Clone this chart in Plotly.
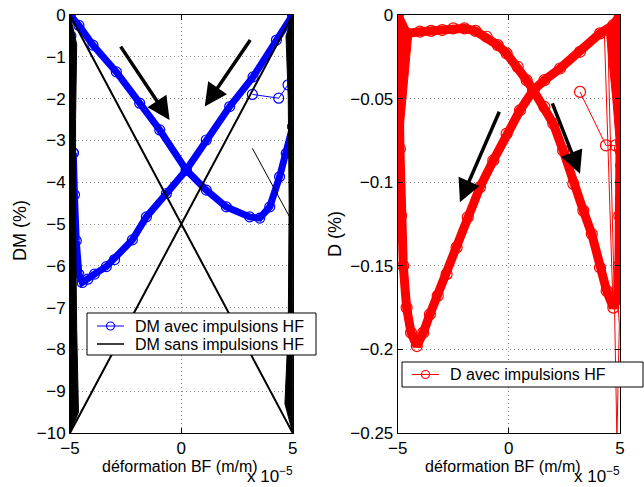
import plotly.graph_objects as go

# ---------------- data (x in units of 1e-5 m/m) ----------------
# Left panel: DM avec impulsions HF (main loop)
dm_desc_x = [-5.0, -4.6, -3.97, -2.92, -1.87, -0.97, 0.22, 1.12, 2.02, 3.07, 3.52, 3.97, 4.41, 4.71, 5.0]
dm_desc_y = [0.0, -0.25, -0.72, -1.36, -2.11, -2.75, -3.71, -4.19, -4.59, -4.83, -4.86, -4.59, -3.87, -3.31, -2.67]
dm_asc_x = [5.0, 4.27, 3.22, 2.17, 1.12, 0.22, -0.67, -1.57, -2.2, -3.0, -3.37, -3.9, -4.2, -4.45, -4.6, -4.72, -4.8, -4.85]
dm_asc_y = [0.0, -0.60, -1.48, -2.19, -2.99, -3.71, -4.27, -4.83, -5.38, -5.85, -6.02, -6.2, -6.32, -6.4, -6.2, -5.4, -4.3, -3.3]
dm_edge_r_x = [5.0, 5.05, 5.05, 5.05, 5.05, 5.05, 5.05, 5.05, 5.05, 5.05, 5.0]
dm_edge_r_y = [-2.67, -2.6, -2.11, -1.87, -1.48, -1.27, -1.08, -0.55, -0.36, -0.07, 0.0]
dm_edge_l_x = [-4.85, -4.97, -4.97, -4.98, -4.98, -4.98, -4.98, -4.97, -4.96, -5.0]
dm_edge_l_y = [-3.3, -3.23, -3.0, -2.6, -2.2, -1.8, -1.4, -1.0, -0.5, 0.0]
dm_stray_x = [3.19, 4.37, 4.79, 5.0]
dm_stray_y = [-1.90, -1.99, -1.67, -1.5]

# Left panel: DM sans impulsions HF
dms_x = [-5.0, 5.0, 5.0, -5.0, -5.0]
dms_y = [0.0, -10.0, 0.0, -10.0, 0.0]
dms_band_l_x = [-5.0, -4.7, -4.75, -4.75, -4.7, -4.62, -5.0, -5.0]
dms_band_l_y = [0.0, -0.7, -2.5, -5.0, -7.5, -9.5, -10.0, 0.0]
dms_band_r_x = [5.0, 4.7, 4.8, 4.84, 4.8, 4.65, 5.0, 5.0]
dms_band_r_y = [0.0, -0.5, -2.0, -4.5, -7.5, -9.3, -10.0, 0.0]
dms_thin_x = [3.19, 4.86]
dms_thin_y = [-3.19, -4.83]

# Right panel: D avec impulsions HF
d_top_x = [-5.0, -4.6, -4.0, -3.5, -3.0, -2.5, -2.0, -1.5, -1.0, -0.5, -0.1, 0.4, 0.8, 1.1, 1.6, 2.0, 2.44,
           2.9, 3.35, 3.73, 4.1, 4.4, 4.7, 4.88, 4.95, 4.97, 5.0]
d_top_y = [0.0, -0.011, -0.010, -0.0095, -0.009, -0.008, -0.008, -0.0095, -0.013, -0.018, -0.023, -0.031,
           -0.039, -0.045, -0.055, -0.065, -0.081, -0.101, -0.117, -0.131, -0.151, -0.165, -0.175, -0.170,
           -0.15, -0.12, -0.08]
d_ret_x = [5.0, 4.7, 4.1, 3.2, 2.3, 1.6, 1.1, 0.5, -0.1, -0.7, -1.3, -1.85, -2.35, -2.8, -3.2, -3.55, -3.85,
           -4.14, -4.4, -4.6, -4.75, -4.85, -4.9, -4.93, -4.96, -5.0]
d_ret_y = [0.0, -0.006, -0.011, -0.022, -0.032, -0.039, -0.045, -0.057, -0.071, -0.087, -0.103, -0.121,
           -0.139, -0.155, -0.168, -0.179, -0.19, -0.198, -0.19, -0.175, -0.15, -0.12, -0.08, -0.05, -0.02, 0.0]
d_edge_l_x = [-4.98] * 9
d_edge_l_y = [-0.032, -0.051, -0.057, -0.081, -0.091, -0.099, -0.109, -0.12, -0.13]
d_edge_r_x = [5.05] * 14
d_edge_r_y = [-0.009, -0.027, -0.049, -0.066, -0.076, -0.082, -0.09, -0.1, -0.11, -0.12, -0.13, -0.14,
              -0.15, -0.16]
d_wedge_l_x = [-5.0, -4.37, -4.52, -4.67, -4.77, -4.85, -4.9, -5.0, -5.0]
d_wedge_l_y = [0.0, -0.012, -0.034, -0.054, -0.07, -0.1, -0.135, -0.135, 0.0]
d_wedge_r_x = [5.0, 4.4, 4.7, 4.86, 4.9, 5.0, 5.02, 5.0]
d_wedge_r_y = [0.0, -0.012, -0.054, -0.081, -0.165, -0.16, 0.0, 0.0]
d_stray_x = [3.2, 4.37, 4.8]
d_stray_y = [-0.046, -0.078, -0.078]
d_thin1_x = [4.3, 4.68]
d_thin1_y = [-0.012, -0.172]
d_thin2_x = [4.45, 4.75, 4.87]
d_thin2_y = [-0.012, -0.172, -0.26]
d_thin3_x = [4.9, 4.97, 4.85]
d_thin3_y = [-0.172, -0.185, -0.26]

# Arrows: (tail x, tail y, head x, head y)
arrows_left = [(-2.77, -0.72, -0.53, -2.51), (3.14, -0.56, 1.05, -2.19)]
arrows_right = [(-0.40, -0.057, -2.2, -0.112), (1.93, -0.052, 3.2, -0.095)]

# Axis ticks
dm_ticks = [0, -1, -2, -3, -4, -5, -6, -7, -8, -9, -10]
d_ticks = [0, -0.05, -0.1, -0.15, -0.2, -0.25]
x_ticks = [-5, 0, 5]

# Legend labels
legend_left = ["DM avec impulsions HF", "DM sans impulsions HF"]
legend_right = ["D avec impulsions HF"]

BLUE = "#0000ff"
RED = "#ff0000"
FONT = "Liberation Sans, Arial, sans-serif"

fig = go.Figure()

# ---------- left panel ----------
for xs, ys in [(dm_desc_x, dm_desc_y), (dm_asc_x, dm_asc_y)]:
    fig.add_trace(go.Scatter(x=xs, y=ys, mode="lines", line=dict(color=BLUE, width=7),
                             showlegend=False, hoverinfo="skip", xaxis="x", yaxis="y"))
for xs, ys in [(dm_desc_x, dm_desc_y), (dm_asc_x, dm_asc_y), (dm_edge_r_x, dm_edge_r_y),
               (dm_edge_l_x, dm_edge_l_y), (dm_stray_x, dm_stray_y)]:
    fig.add_trace(go.Scatter(x=xs, y=ys, mode="lines+markers",
                             line=dict(color=BLUE, width=1),
                             marker=dict(symbol="circle-open", size=10, color=BLUE, line=dict(width=1.2)),
                             name=legend_left[0], showlegend=False, xaxis="x", yaxis="y"))

for xs, ys in [(dms_band_l_x, dms_band_l_y), (dms_band_r_x, dms_band_r_y)]:
    fig.add_trace(go.Scatter(x=xs, y=ys, mode="lines", fill="toself", fillcolor="black",
                             line=dict(color="black", width=1), showlegend=False,
                             hoverinfo="skip", xaxis="x", yaxis="y"))
fig.add_trace(go.Scatter(x=dms_x, y=dms_y, mode="lines", line=dict(color="black", width=2),
                         name=legend_left[1], showlegend=False, xaxis="x", yaxis="y"))
fig.add_trace(go.Scatter(x=dms_thin_x, y=dms_thin_y, mode="lines", line=dict(color="black", width=1),
                         showlegend=False, xaxis="x", yaxis="y"))

# ---------- right panel ----------
for xs, ys in [(d_wedge_l_x, d_wedge_l_y), (d_wedge_r_x, d_wedge_r_y)]:
    fig.add_trace(go.Scatter(x=xs, y=ys, mode="lines", fill="toself", fillcolor=RED,
                             line=dict(color=RED, width=1), showlegend=False,
                             hoverinfo="skip", xaxis="x2", yaxis="y2"))
for xs, ys in [(d_top_x, d_top_y), (d_ret_x, d_ret_y)]:
    fig.add_trace(go.Scatter(x=xs, y=ys, mode="lines", line=dict(color=RED, width=9),
                             showlegend=False, hoverinfo="skip", xaxis="x2", yaxis="y2"))
for xs, ys in [(d_thin1_x, d_thin1_y), (d_thin2_x, d_thin2_y), (d_thin3_x, d_thin3_y)]:
    fig.add_trace(go.Scatter(x=xs, y=ys, mode="lines", line=dict(color=RED, width=1),
                             showlegend=False, hoverinfo="skip", xaxis="x2", yaxis="y2"))
for xs, ys in [(d_top_x, d_top_y), (d_ret_x, d_ret_y), (d_edge_l_x, d_edge_l_y),
               (d_edge_r_x, d_edge_r_y), (d_stray_x, d_stray_y)]:
    fig.add_trace(go.Scatter(x=xs, y=ys, mode="lines+markers",
                             line=dict(color=RED, width=1),
                             marker=dict(symbol="circle-open", size=11, color=RED, line=dict(width=1.2)),
                             name=legend_right[0], showlegend=False, xaxis="x2", yaxis="y2"))

# ---------- layout ----------
W, H = 644, 487
MT, MB = 15, 54
PH = H - MT - MB


def px_x(X):
    return X / W


def px_y(Y):
    return (H - MB - Y) / PH


axis_common = dict(showline=True, linecolor="black", linewidth=1, mirror="ticks",
                   ticks="inside", ticklen=5, tickcolor="black", automargin=False,
                   showgrid=True, gridcolor="#8c8c8c", griddash="1px,3px", gridwidth=1,
                   zeroline=False, tickfont=dict(family=FONT, size=17, color="black"))

fig.update_layout(
    width=W, height=H,
    margin=dict(l=0, r=0, t=MT, b=MB, autoexpand=False),
    paper_bgcolor="white", plot_bgcolor="white",
    font=dict(family=FONT, color="black"),
    showlegend=False,
    xaxis=dict(domain=[70 / W, 292.7 / W], range=[-5, 5], tickvals=x_ticks, anchor="y", **axis_common),
    yaxis=dict(domain=[0, 1], range=[-10, 0], tickvals=dm_ticks, anchor="x", **axis_common),
    xaxis2=dict(domain=[397.7 / W, 620 / W], range=[-5, 5], tickvals=x_ticks, anchor="y2", **axis_common),
    yaxis2=dict(domain=[0, 1], range=[-0.25, 0], tickvals=d_ticks, anchor="x2", **axis_common),
)

ann = []
shapes = []
for (tx, ty, hx, hy) in arrows_left:
    ann.append(dict(x=hx, y=hy, ax=tx, ay=ty, xref="x", yref="y", axref="x", ayref="y",
                    text="", showarrow=True, arrowhead=2, arrowsize=1.3, arrowwidth=3.5,
                    arrowcolor="black", standoff=0))
for (tx, ty, hx, hy) in arrows_right:
    ann.append(dict(x=hx, y=hy, ax=tx, ay=ty, xref="x2", yref="y2", axref="x2", ayref="y2",
                    text="", showarrow=True, arrowhead=2, arrowsize=1.3, arrowwidth=3.5,
                    arrowcolor="black", standoff=0))

# Axis labels
ann.append(dict(text="DM (%)", x=px_x(20), y=px_y(231), xref="paper", yref="paper",
                xanchor="center", yanchor="middle",
                showarrow=False, textangle=-90, font=dict(family=FONT, size=18)))
ann.append(dict(text="D (%)", x=px_x(335), y=px_y(234), xref="paper", yref="paper",
                xanchor="center", yanchor="middle",
                showarrow=False, textangle=-90, font=dict(family=FONT, size=18)))
for cx in (180, 502.5):
    ann.append(dict(text="déformation BF (m/m)", x=px_x(cx), y=px_y(466), xref="paper", yref="paper",
                    xanchor="center", yanchor="middle",
                    showarrow=False, font=dict(family=FONT, size=16)))
for lx in (245, 572):
    ann.append(dict(text="x 10<sup>−5</sup>", x=px_x(lx), y=px_y(475), xref="paper", yref="paper",
                    xanchor="left", yanchor="middle", showarrow=False, font=dict(family=FONT, size=17)))


# Legends (MATLAB-style boxes)
def legend_box(x0, y0, x1, y1, entries):
    shapes.append(dict(type="rect", xref="paper", yref="paper", x0=px_x(x0), x1=px_x(x1),
                       y0=px_y(y1), y1=px_y(y0), line=dict(color="black", width=1),
                       fillcolor="white", layer="above"))
    for (label, color, width, marker, yrow) in entries:
        shapes.append(dict(type="line", xref="paper", yref="paper",
                           x0=px_x(x0 + 10), x1=px_x(x0 + 37), y0=px_y(yrow), y1=px_y(yrow),
                           line=dict(color=color, width=width), layer="above"))
        if marker:
            cxp = x0 + 23.5
            shapes.append(dict(type="circle", xref="paper", yref="paper",
                               x0=px_x(cxp - 4), x1=px_x(cxp + 4), y0=px_y(yrow + 4), y1=px_y(yrow - 4),
                               line=dict(color=color, width=1.2), fillcolor="rgba(0,0,0,0)",
                               layer="above"))
        ann.append(dict(text=label, x=px_x(x0 + 46), y=px_y(yrow), xref="paper", yref="paper",
                        xanchor="left", yanchor="middle", showarrow=False,
                        font=dict(family=FONT, size=16, color="black")))


legend_box(87, 313, 316, 355, [(legend_left[0], BLUE, 1, True, 326),
                               (legend_left[1], "black", 1.5, False, 344)])
legend_box(402, 362, 643, 387, [(legend_right[0], RED, 1, True, 374.5)])

fig.update_layout(annotations=ann, shapes=shapes)

fig.write_html("out.html", config={"displayModeBar": False},
               post_script="document.body.style.margin='0px';")
